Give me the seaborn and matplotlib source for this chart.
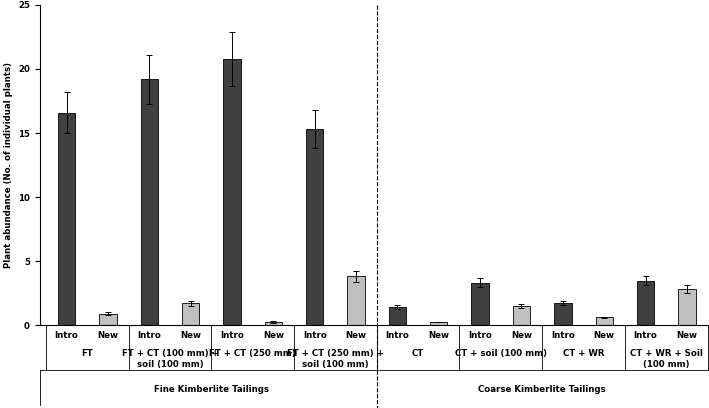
import matplotlib
matplotlib.use("Agg")
import matplotlib.pyplot as plt
import seaborn as sns
import pandas as pd
import numpy as np

groups = ["FT", "FT + CT (100 mm) +\nsoil (100 mm)", "FT + CT (250 mm)", "FT + CT (250 mm) +\nsoil (100 mm)",
          "CT", "CT + soil (100 mm)", "CT + WR", "CT + WR + Soil\n(100 mm)"]
intro = [16.6, 19.2, 20.8, 15.3, 1.45, 3.3, 1.7, 3.45]
intro_err = [1.6, 1.9, 2.1, 1.5, 0.15, 0.35, 0.15, 0.35]
new = [0.9, 1.7, 0.25, 3.8, 0.25, 1.5, 0.6, 2.8]
new_err = [0.1, 0.2, 0.05, 0.4, 0.03, 0.15, 0.05, 0.3]
supergroups = ["Fine Kimberlite Tailings", "Coarse Kimberlite Tailings"]

rows = []
for i, g in enumerate(groups):
    rows.append(dict(pos=f"{i}a", kind="Intro", val=intro[i], err=intro_err[i]))
    rows.append(dict(pos=f"{i}b", kind="New", val=new[i], err=new_err[i]))
df = pd.DataFrame(rows)

fs = 6.2
fig = plt.figure(figsize=(7.09, 4.08), dpi=100)
ax = fig.add_axes([0.056, 0.203, 0.942, 0.785])
sns.barplot(data=df, x="pos", y="val", hue="kind", palette={"Intro": "#404040", "New": "#bfbfbf"},
            dodge=False, width=0.42, edgecolor="black", linewidth=0.6, legend=False, ax=ax)
ax.errorbar(np.arange(len(df)), df["val"], yerr=df["err"], fmt="none", ecolor="black",
            elinewidth=0.7, capsize=2.5, capthick=0.7)
ax.set_xlim(-0.65, 15.5)
ax.set_ylim(0, 25)
ax.set_yticks(range(0, 26, 5))
ax.tick_params(axis="y", labelsize=fs)
for lab in ax.get_yticklabels():
    lab.set_fontweight("bold")
ax.set_ylabel("Plant abundance (No. of individual plants)", fontsize=fs, fontweight="bold")
ax.set_xlabel("")
ax.set_xticks(range(len(df)))
ax.set_xticklabels(df["kind"], fontsize=fs, fontweight="bold")
ax.tick_params(axis="x", length=0, pad=4)
for s in ["top", "right"]:
    ax.spines[s].set_visible(False)
tr = ax.get_xaxis_transform()
for i, g in enumerate(groups):
    ax.text(2 * i + 0.5, -0.075, g, transform=tr, ha="center", va="top", fontsize=fs, fontweight="bold")
for b in np.arange(-0.5, 16, 2):
    ax.plot([b, b], [0, -0.14], transform=tr, color="black", lw=0.6, clip_on=False)
ax.plot([-0.65, 15.5], [-0.14, -0.14], transform=tr, color="black", lw=0.6, clip_on=False)
ax.plot([-0.65, -0.65], [-0.14, -0.25], transform=tr, color="black", lw=0.6, clip_on=False)
ax.text(3.5, -0.2, supergroups[0], transform=tr, ha="center", va="center", fontsize=fs, fontweight="bold")
ax.text(11.5, -0.2, supergroups[1], transform=tr, ha="center", va="center", fontsize=fs, fontweight="bold")
ax.plot([7.5, 7.5], [1.0, -0.26], transform=tr, color="black", lw=0.8, ls="--", clip_on=False)
fig.savefig("out.png", dpi=100)
